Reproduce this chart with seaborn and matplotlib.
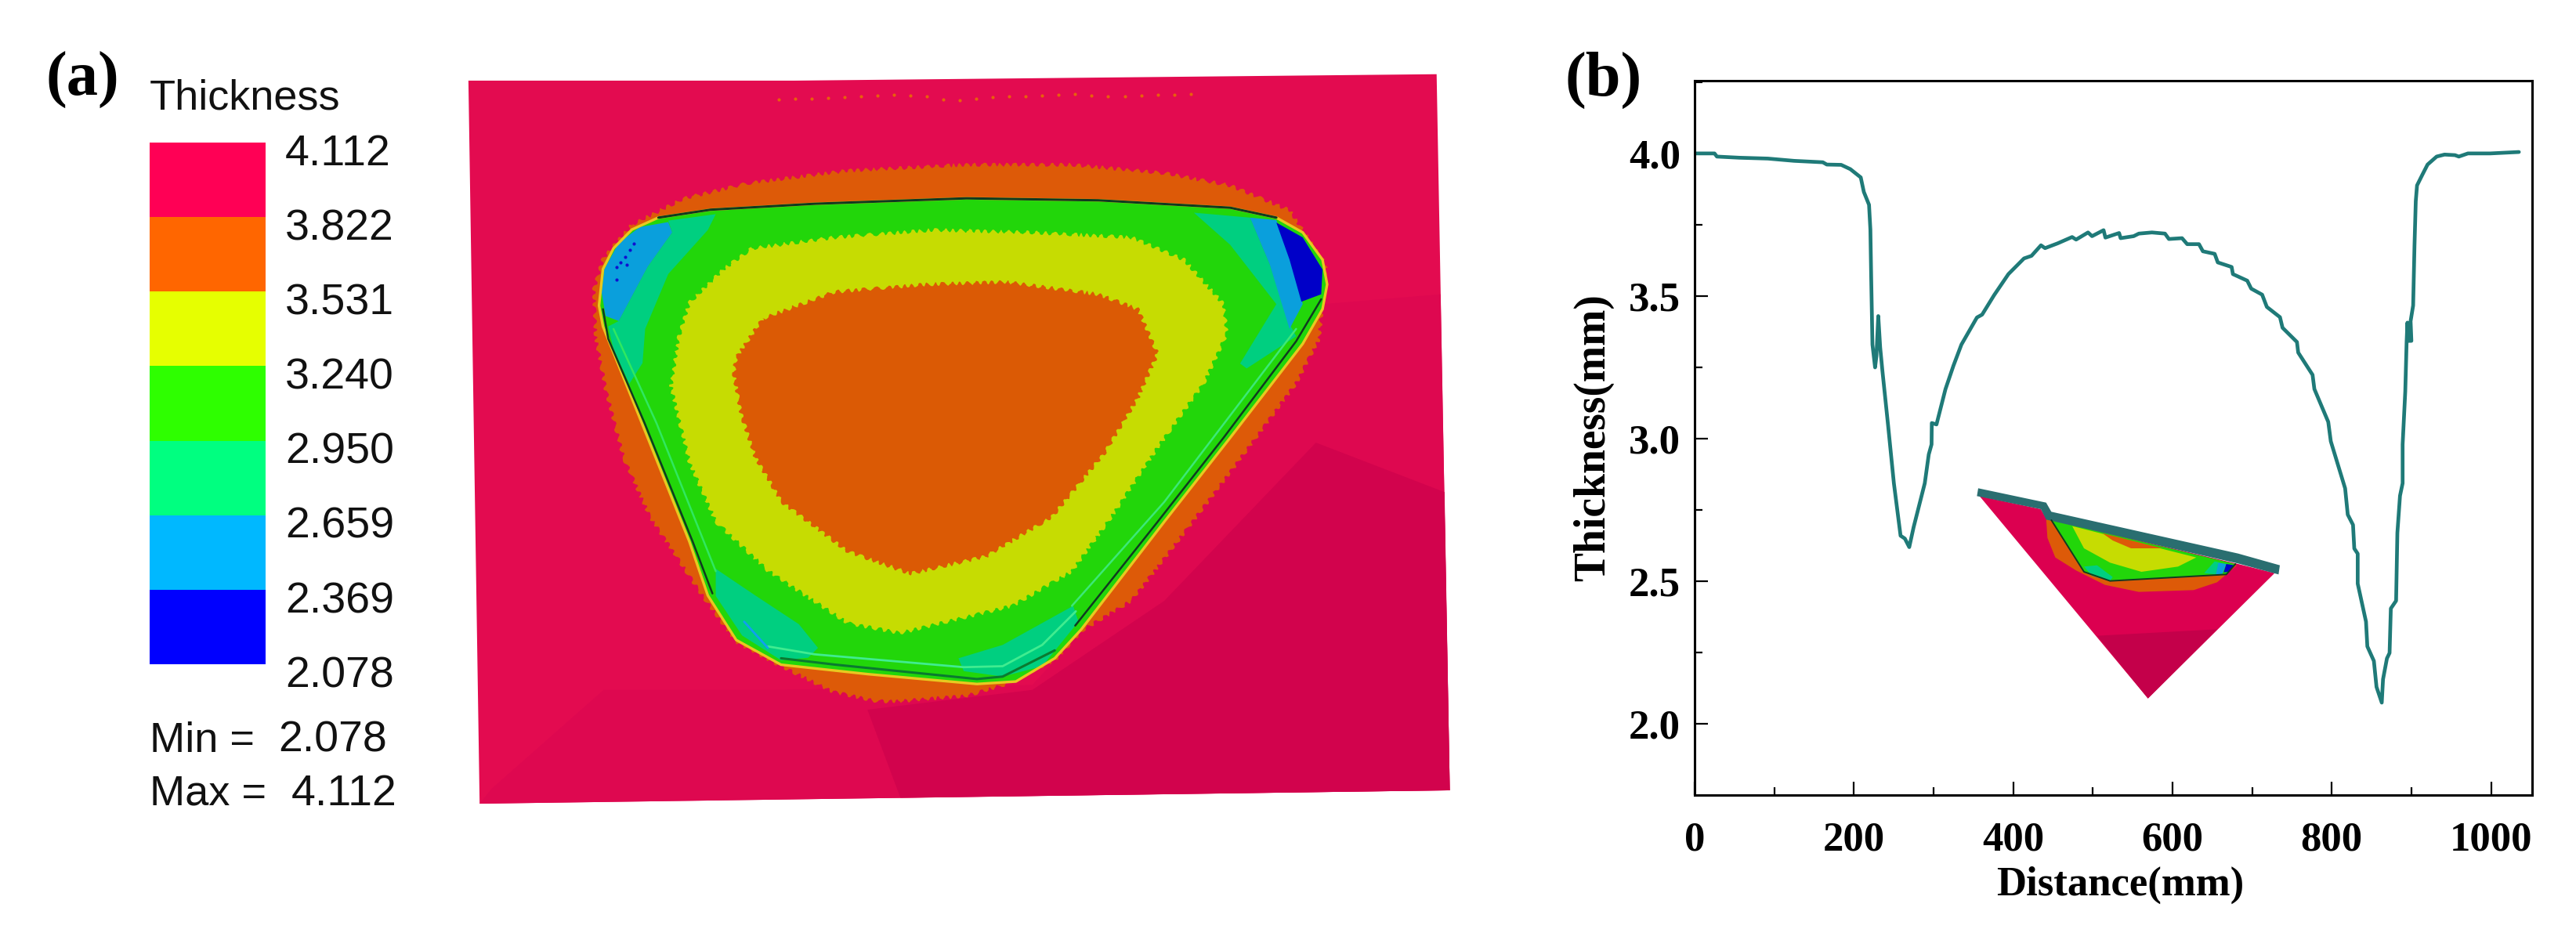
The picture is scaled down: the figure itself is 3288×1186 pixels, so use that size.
"""Thickness contour map and section profile."""
import matplotlib
matplotlib.use("Agg")
import matplotlib.pyplot as plt
from matplotlib.colors import ListedColormap
from matplotlib.ticker import MultipleLocator
import numpy as np
import seaborn as sns

W, H = 3288, 1186

# ---- colour key
key_labels = ["4.112", "3.822", "3.531", "3.240", "2.950", "2.659", "2.369", "2.078"]
key_colors = ["#FF0055", "#FF6600", "#E6FF00", "#2EFF00", "#00FF80", "#00B8FF", "#0000FF"]

# ---- section profile
distance = [0, 17, 25, 28, 56, 92, 125, 161, 166, 184, 195.5, 208.6, 212.5, 219, 220.7, 221.7, 223.3,
            226.6, 228.3, 230.6, 233, 235.8, 243, 250.2, 258.6, 264, 269.5, 275, 285, 289, 294,
            297.5, 297.8, 303.7, 315, 325, 335, 354.5, 361, 376, 394, 413.6, 423, 434.9, 440, 456,
            474, 479, 494, 499, 513.5, 515.8, 533, 534.9, 551.3, 557.8, 574.2, 590.6, 595.5, 612,
            618.5, 633.3, 638.2, 653, 656.9, 674.3, 675.9, 693.9, 698.9, 712.6, 718.5, 735, 738.2,
            756.3, 757.9, 775.9, 778.2, 795.6, 798.8, 816.8, 820.1, 826.7, 828.3, 832.6, 832.6,
            843, 844.7, 852.9, 856.2, 862.8, 864.4, 869.3, 872.6, 874.2, 880.8, 882.4, 885.7, 889,
            889, 892.3, 894, 895, 895.7, 900, 899, 902.2, 903.9, 905.5, 907.1, 913.7, 920.3,
            931.7, 941.6, 954.7, 959.6, 971, 999, 1035]
thickness = [4.0, 4.0, 4.0, 3.989, 3.985, 3.982, 3.974, 3.969, 3.961, 3.96, 3.945, 3.916, 3.865, 3.82,
             3.733, 3.568, 3.33, 3.25, 3.29, 3.43, 3.32, 3.238, 3.045, 2.844, 2.66, 2.65, 2.62, 2.69,
             2.80, 2.844, 2.945, 2.98, 3.055, 3.05, 3.174, 3.256, 3.33, 3.425, 3.435, 3.503, 3.577,
             3.632, 3.641, 3.678, 3.668, 3.685, 3.707, 3.698, 3.723, 3.71, 3.731, 3.705, 3.721,
             3.703, 3.71, 3.719, 3.723, 3.719, 3.7, 3.703, 3.682, 3.682, 3.657, 3.648, 3.618, 3.602,
             3.577, 3.554, 3.526, 3.505, 3.462, 3.426, 3.389, 3.339, 3.302, 3.224, 3.174, 3.059,
             2.991, 2.826, 2.734, 2.698, 2.615, 2.597, 2.492, 2.359, 2.272, 2.221, 2.13, 2.075,
             2.157, 2.23, 2.249, 2.405, 2.432, 2.67, 2.8, 2.844, 2.98, 3.165, 3.339, 3.407, 3.343,
             3.343, 3.412, 3.467, 3.677, 3.833, 3.888, 3.925, 3.961, 3.989, 3.996, 3.994, 3.989,
             4.0, 4.0, 4.005]

# ---- contour map outlines (crop coordinates)
sheet = [(45, 68), (540, 68), (1513, 55), (1533, 1503), (62, 1530)]
sheet_dark_a = [(1519, 500), (1340, 520), (1100, 1000), (900, 1290), (500, 1300), (250, 1300),
                (80, 1500), (62, 1530), (1533, 1503)]
sheet_dark_b = [(1525, 900), (1330, 800), (1100, 1120), (900, 1300), (650, 1340), (700, 1518), (1533, 1503)]
halo = [(293, 359), (372, 306), (471, 275), (620, 250), (800, 238), (960, 238), (1100, 255),
        (1200, 280), (1290, 330), (1345, 440), (1335, 590), (1300, 680), (1200, 860), (1120, 1000),
        (1050, 1120), (975, 1180), (934, 1240), (855, 1291), (800, 1312), (697, 1323), (665, 1323),
        (598, 1304), (519, 1252), (451, 1203), (400, 1110), (320, 950), (280, 830), (253, 692),
        (238, 586), (235, 491), (249, 428)]
part = [(333, 345), (412, 329), (570, 317), (800, 306), (1000, 310), (1200, 325), (1270, 345),
        (1310, 375), (1340, 430), (1347, 480), (1340, 530), (1310, 600), (1200, 790), (1100, 960),
        (974, 1178), (934, 1236), (875, 1283), (816, 1288), (650, 1268), (519, 1249), (451, 1199),
        (408, 1109), (380, 1000), (303, 744), (249, 565), (243, 523), (249, 449), (265, 407), (293, 369)]
ring = [(475, 407), (600, 385), (750, 370), (900, 375), (1050, 385), (1130, 430), (1190, 520),
        (1195, 580), (1160, 680), (1090, 810), (1020, 950), (960, 1060), (870, 1130), (700, 1185),
        (620, 1165), (500, 1060), (420, 960), (380, 840), (352, 686), (364, 586), (380, 517), (432, 449)]
core = [(491, 549), (600, 495), (740, 480), (860, 475), (1000, 500), (1060, 530), (1090, 620),
        (1060, 710), (1010, 820), (930, 950), (830, 1030), (715, 1065), (620, 1020), (520, 920),
        (480, 830), (459, 745), (447, 660), (451, 628)]
tl_teal = [(348, 351), (420, 338), (408, 370), (348, 459), (313, 570), (309, 639), (289, 681),
           (265, 612), (257, 565), (273, 554), (317, 444), (354, 375)]
tl_blue = [(348, 354), (354, 375), (317, 444), (273, 554), (253, 544), (247, 496), (251, 449),
           (273, 396), (305, 364)]
tr_teal = [(1145, 335), (1230, 345), (1260, 440), (1290, 560), (1300, 585), (1225, 650), (1215, 640),
           (1270, 520), (1200, 400)]
tr_blue = [(1230, 345), (1270, 350), (1300, 460), (1310, 520), (1290, 570), (1260, 440)]
tr_navy = [(1270, 355), (1310, 385), (1340, 450), (1338, 500), (1308, 515), (1290, 430)]
bl_teal = [(420, 1055), (480, 1109), (546, 1167), (575, 1215), (560, 1235), (519, 1240), (460, 1190), (420, 1110)]
br_teal = [(788, 1236), (855, 1209), (962, 1130), (970, 1162), (915, 1252), (855, 1273), (796, 1262)]
highlight_bottom = [(499, 1212), (570, 1228), (796, 1254), (855, 1252), (915, 1209), (966, 1141)]
dark_bottom = [(519, 1236), (602, 1249), (816, 1278), (855, 1273), (934, 1220)]
highlight_left = [(265, 570), (330, 760), (420, 1060)]
highlight_right = [(1300, 570), (1100, 920), (960, 1130)]
dark_left = [(249, 530), (257, 590), (312, 760), (385, 1000), (415, 1105)]
dark_right = [(1338, 510), (1300, 595), (1190, 790), (1090, 960), (965, 1170)]
blue_tick = [(463, 1162), (499, 1215)]
blue_specks_x = [270, 275, 283, 290, 296, 285, 270]
blue_specks_y = [445, 435, 425, 410, 398, 440, 470]
specks_x = [515, 540, 565, 590, 615, 640, 665, 690, 715, 740, 765, 790, 815, 840, 865, 890, 915,
            940, 965, 990, 1015, 1040, 1065, 1090, 1115, 1140]
specks_y = [106, 104, 104, 103, 102, 100, 98, 97, 98, 100, 106, 108, 104, 102, 100, 99, 98,
            96, 95, 98, 100, 100, 98, 97, 96, 95]

# ---- inset cut view (crop coordinates)
cut = [(140, 130), (375, 180), (395, 215), (1130, 390), (1270, 425), (785, 905)]
cut_dark = [(590, 665), (1050, 640), (785, 905)]
cut_orange = [(395, 215), (400, 290), (430, 365), (510, 415), (620, 470), (750, 497), (960, 490),
              (1050, 460), (1125, 395)]
cut_green = [(415, 222), (540, 420), (640, 455), (1085, 430), (1120, 390)]
cut_yellow = [(495, 245), (970, 365), (900, 400), (760, 420), (640, 385), (540, 330)]
cut_core = [(610, 272), (840, 330), (720, 330), (650, 300)]
cut_teal_a = [(540, 400), (590, 395), (650, 440), (640, 455), (570, 435)]
cut_teal_b = [(1000, 425), (1040, 380), (1060, 385), (1045, 430)]
cut_blue = [(1045, 430), (1055, 385), (1085, 390), (1070, 428)]
cut_navy = [(1075, 422), (1085, 390), (1115, 395), (1095, 420)]
cut_bar = [(135, 100), (395, 155), (415, 190), (1130, 350), (1290, 395), (1285, 430), (1130, 388),
           (395, 220), (375, 180), (130, 130)]

LINE = "#1F7A78"
SANS = "Liberation Sans"
INK = "#111111"


def map_xy(pts):
    a = np.array(pts, dtype=float)
    return 560 + a[:, 0] * 1320 / 1568, 60 + a[:, 1] * 990 / 1568


def cut_xy(pts):
    a = np.array(pts, dtype=float)
    return 2480 + a[:, 0] / 3, 590 + a[:, 1] / 3


def axes_px(fig, left, top, right, bottom):
    return fig.add_axes([left / W, 1 - bottom / H, (right - left) / W, (bottom - top) / H])


def rough_fill(axis, pts, color):
    # saw-tooth element edges of the contour bands
    for p in axis.fill(*map_xy(pts), color=color, lw=0):
        p.set_sketch_params(2.5, 14, 3)


sns.set_theme(style="ticks")
plt.rcParams["font.family"] = ["Liberation Serif", "DejaVu Serif"]

fig = plt.figure(figsize=(W / 100, H / 100), dpi=100, facecolor="white")

# colour key
kax = axes_px(fig, 191, 182, 339, 848)
sns.heatmap(np.arange(7).reshape(-1, 1), cmap=ListedColormap(key_colors), cbar=False,
            xticklabels=False, yticklabels=False, ax=kax)
for i, lab in enumerate(key_labels):
    kax.text(1.169, i + 0.16, lab, family=SANS, fontsize=40, color=INK, ha="left", va="center", clip_on=False)

fig.text(191 / W, 1 - 126 / H, "Thickness", family=SANS, fontsize=39, color=INK, va="center")
fig.text(191 / W, 1 - 946 / H, "Min =", family=SANS, fontsize=39, color=INK, va="center")
fig.text(355 / W, 1 - 946 / H, "2.078", family=SANS, fontsize=40, color=INK, va="center")
fig.text(191 / W, 1 - 1014 / H, "Max =", family=SANS, fontsize=39, color=INK, va="center")
fig.text(372 / W, 1 - 1014 / H, "4.112", family=SANS, fontsize=40, color=INK, va="center")
fig.text(58 / W, 1 - 102 / H, "(a)", fontsize=58, fontweight="bold", color="black", va="center")
fig.text(1997 / W, 1 - 102 / H, "(b)", fontsize=58, fontweight="bold", color="black", va="center")

# section profile
ax = axes_px(fig, 2163, 103, 3232, 1015)
sns.lineplot(x=distance, y=thickness, color=LINE, lw=3.4, estimator=None, sort=False, ax=ax)
ax.set_xlim(0, 1051.6)
ax.set_ylim(1.751, 4.255)
ax.xaxis.set_major_locator(MultipleLocator(200))
ax.xaxis.set_minor_locator(MultipleLocator(100))
ax.yaxis.set_major_locator(MultipleLocator(0.5))
ax.yaxis.set_minor_locator(MultipleLocator(0.25))
ax.yaxis.set_major_formatter(lambda v, _: f"{v:.1f}")
ax.tick_params(which="major", direction="in", length=12, width=1.6, labelsize=38, colors="black")
ax.tick_params(which="minor", direction="in", length=7, width=1.6, colors="black")
ax.tick_params(axis="x", which="major", pad=24)
ax.tick_params(axis="y", which="major", pad=13)
for lab in ax.get_xticklabels() + ax.get_yticklabels():
    lab.set_fontweight("bold")
for s in ax.spines.values():
    s.set_visible(True)
    s.set_linewidth(2.2)
    s.set_color("black")
ax.set_xlabel("Distance(mm)", fontsize=38, fontweight="bold", color="black", va="center")
ax.set_ylabel("Thickness(mm)", fontsize=40, fontweight="bold", color="black", va="center")
ax.xaxis.set_label_coords(0.508, -0.126)
ax.yaxis.set_label_coords(-0.121, 0.5)

# picture layer: map and inset share figure pixel coordinates
pic = fig.add_axes([0, 0, 1, 1], zorder=5)
pic.set_xlim(0, W)
pic.set_ylim(H, 0)
pic.axis("off")
pic.patch.set_alpha(0)

pic.fill(*map_xy(sheet), color="#E30B50", lw=0)
pic.fill(*map_xy(sheet_dark_a), color="#DE0850", lw=0)
pic.fill(*map_xy(sheet_dark_b), color="#D2034D", lw=0)
rough_fill(pic, halo, "#DD5A08")
pic.fill(*map_xy(part), color="#22D60A", lw=0)
rough_fill(pic, ring, "#C6DC02")
rough_fill(pic, core, "#DB5A05")
pic.fill(*map_xy(tl_teal), color="#00CF80", lw=0)
pic.fill(*map_xy(tl_blue), color="#0A9FDC", lw=0)
pic.fill(*map_xy(tr_teal), color="#00CF80", lw=0)
pic.fill(*map_xy(tr_blue), color="#0A9FDC", lw=0)
pic.fill(*map_xy(tr_navy), color="#0000C8", lw=0)
pic.fill(*map_xy(bl_teal), color="#00CF80", lw=0)
pic.fill(*map_xy(br_teal), color="#00CF80", lw=0)

pic.plot(*map_xy(highlight_left), color="#30E860", lw=1.8)
pic.plot(*map_xy(highlight_right), color="#3CE878", lw=1.8)
pic.plot(*map_xy(highlight_bottom), color="#40EC90", lw=2.0)
pic.plot(*map_xy(blue_tick), color="#10A0F0", lw=2.0)
pic.plot(*map_xy(dark_bottom), color="#0A7A30", lw=2.2)
pic.plot(*map_xy(part + part[:1]), color="#E8C820", lw=2.4, solid_joinstyle="round")
pic.plot(*map_xy(part[:7]), color="#103A20", lw=2.2)
pic.plot(*map_xy(dark_left), color="#103A20", lw=1.8)
pic.plot(*map_xy(dark_right), color="#103A20", lw=1.8)
sx, sy = map_xy(list(zip(blue_specks_x, blue_specks_y)))
pic.scatter(sx, sy, s=9, color="#1010D0", linewidths=0)
sx, sy = map_xy(list(zip(specks_x, specks_y)))
pic.scatter(sx, sy, s=9, color="#E8600C", linewidths=0)

pic.fill(*cut_xy(cut), color="#DC0050", lw=0)
pic.fill(*cut_xy(cut_dark), color="#C4004A", lw=0)
pic.fill(*cut_xy(cut_orange), color="#DD5A08", lw=0)
pic.fill(*cut_xy(cut_green), color="#22D60A", lw=0)
pic.fill(*cut_xy(cut_yellow), color="#C6DC02", lw=0)
pic.fill(*cut_xy(cut_core), color="#DD5A08", lw=0)
pic.fill(*cut_xy(cut_teal_a), color="#00CF80", lw=0)
pic.fill(*cut_xy(cut_teal_b), color="#00CF80", lw=0)
pic.fill(*cut_xy(cut_blue), color="#0A9FDC", lw=0)
pic.fill(*cut_xy(cut_navy), color="#0000C8", lw=0)
pic.plot(*cut_xy(cut_green), color="#123A20", lw=1.4)
pic.fill(*cut_xy(cut_bar), color="#2A6E70", lw=0)

fig.savefig("out.png", dpi=100, facecolor="white")
plt.close(fig)
